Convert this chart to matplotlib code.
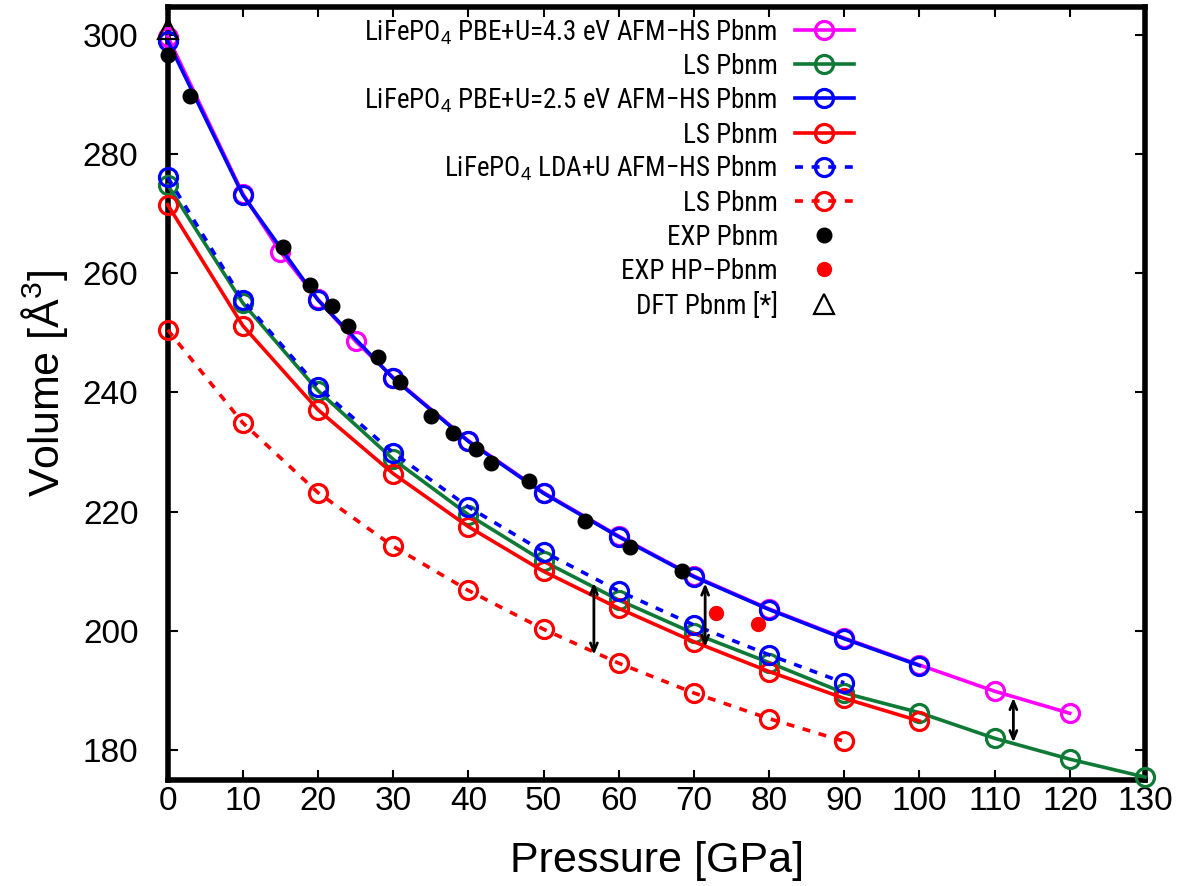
import os
import matplotlib
matplotlib.use("Agg")
import matplotlib.pyplot as plt
from matplotlib import font_manager
from matplotlib.font_manager import FontProperties

plt.rcParams['font.family'] = ['Liberation Sans', 'DejaVu Sans']
plt.rcParams['mathtext.fontset'] = 'custom'
plt.rcParams['mathtext.rm'] = 'Liberation Sans'
plt.rcParams['mathtext.it'] = 'Liberation Sans:italic'
plt.rcParams['mathtext.bf'] = 'Liberation Sans:bold'

# PBE+U=4.3 eV, AFM-HS
p_u43_hs = [0, 10, 15, 20, 25, 30, 40, 50, 60, 70, 80, 90, 100, 110, 120]
v_u43_hs = [299.7, 273.3, 263.6, 255.6, 248.6, 242.5, 231.9, 223.2, 215.9,
            209.2, 203.7, 198.8, 194.3, 189.9, 186.2]
# PBE+U=4.3 eV, LS
p_u43_ls = [0, 10, 20, 30, 40, 50, 60, 70, 80, 90, 100, 110, 120, 130]
v_u43_ls = [274.8, 255.0, 240.3, 228.8, 219.5, 211.7, 205.2, 199.6, 194.7,
            189.6, 186.3, 182.0, 178.5, 175.5]
# PBE+U=2.5 eV, AFM-HS
p_u25_hs = [0, 10, 20, 30, 40, 50, 60, 70, 80, 90, 100]
v_u25_hs = [299.0, 273.1, 255.5, 242.4, 231.8, 223.1, 215.8, 209.1, 203.6, 198.7, 194.2]
# PBE+U=2.5 eV, LS
p_u25_ls = [0, 10, 20, 30, 40, 50, 60, 70, 80, 90, 100]
v_u25_ls = [271.5, 251.2, 237.1, 226.4, 217.5, 210.0, 203.8, 198.2, 193.2, 188.7, 184.9]
# LDA+U, AFM-HS
p_lda_hs = [0, 10, 20, 30, 40, 50, 60, 70, 80, 90]
v_lda_hs = [276.1, 255.5, 240.9, 229.9, 220.8, 213.3, 206.7, 201.0, 196.0, 191.3]
# LDA+U, LS
p_lda_ls = [0, 10, 20, 30, 40, 50, 60, 70, 80, 90]
v_lda_ls = [250.5, 234.9, 223.2, 214.2, 206.8, 200.3, 194.6, 189.6, 185.3, 181.5]
# experiment
p_exp = [0, 3.0, 15.4, 19.0, 21.9, 24.0, 28.0, 30.9, 35.0, 38.0, 41.0, 43.0,
         48.1, 55.5, 61.5, 68.4]
v_exp = [296.6, 289.8, 264.4, 258.0, 254.5, 251.1, 246.0, 241.8, 236.1, 233.2,
         230.5, 228.1, 225.1, 218.5, 214.1, 210.0]
p_exp_hp = [73.0, 78.5]
v_exp_hp = [203.0, 201.1]
p_dft = [0]
v_dft = [300.9]
# double arrows
arrow_p = [56.7, 71.5, 112.5]
arrow_lo = [196.0, 197.3, 181.3]
arrow_hi = [208.1, 208.0, 188.8]

labels = ['LiFePO$_4$ PBE+U=4.3 eV AFM\u2212HS Pbnm', 'LS Pbnm',
          'LiFePO$_4$ PBE+U=2.5 eV AFM\u2212HS Pbnm', 'LS Pbnm',
          'LiFePO$_4$ LDA+U AFM\u2212HS Pbnm', 'LS Pbnm',
          'EXP Pbnm', 'EXP HP\u2212Pbnm', 'DFT Pbnm [*]']


def narrow_font():
    # the key text in the reference is a narrow sans; use one if installed
    tries = [('Liberation Sans Narrow', 'normal'), ('Roboto Condensed', 'normal'),
             ('Noto Sans', 'condensed'), ('Noto Sans Condensed', 'normal'),
             ('Open Sans', 'condensed'), ('Open Sans Condensed', 'normal')]
    for fam, stretch in tries:
        fp = FontProperties(family=fam, stretch=stretch)
        try:
            path = font_manager.findfont(fp, fallback_to_default=False)
        except ValueError:
            continue
        base = os.path.basename(path).lower()
        if 'narrow' in base or 'cond' in base:
            return fam, stretch
    return 'Liberation Sans', 'normal'


key_family, key_stretch = narrow_font()

green = '#0f7a36'
lw = 2.6
circ = dict(marker='o', ms=13, mfc='none', mew=2.3)
styles = [
    dict(color='#ff00ff', lw=lw, **circ),
    dict(color=green, lw=lw, **circ),
    dict(color='#0000ff', lw=lw, **circ),
    dict(color='#ff0000', lw=lw, **circ),
    dict(color='#0000ff', lw=lw, ls=(0, (2.2, 2.4)), **circ),
    dict(color='#ff0000', lw=lw, ls=(0, (2.2, 2.4)), **circ),
    dict(color='black', ls='none', marker='o', ms=10.5),
    dict(color='#ff0000', ls='none', marker='o', ms=10),
    dict(color='black', ls='none', marker='^', ms=14, mfc='none', mew=1.6),
]
series = [(p_u43_hs, v_u43_hs), (p_u43_ls, v_u43_ls), (p_u25_hs, v_u25_hs),
          (p_u25_ls, v_u25_ls), (p_lda_hs, v_lda_hs), (p_lda_ls, v_lda_ls),
          (p_exp, v_exp), (p_exp_hp, v_exp_hp), (p_dft, v_dft)]

fig = plt.figure(figsize=(11.84, 8.86), dpi=100)
ax = fig.add_axes([0.1416, 0.1196, 0.8254, 0.8728])

for i, ((p, v), st) in enumerate(zip(series, styles)):
    ax.plot(p, v, clip_on=False, zorder=3 + i * 0.1, **st)

for p, lo, hi in zip(arrow_p, arrow_lo, arrow_hi):
    ax.annotate('', xy=(p, lo), xytext=(p, hi),
                arrowprops=dict(arrowstyle='<->,head_length=0.6,head_width=0.25',
                                color='black', lw=2, shrinkA=0, shrinkB=0),
                zorder=4)

ax.set_xlim(0, 130)
ax.set_ylim(175, 304.7)
ax.set_xticks(range(0, 131, 10))
ax.set_yticks(range(180, 301, 20))
ax.tick_params(direction='in', length=7, width=1.5, top=True, right=True,
               labelsize=24)
ax.tick_params(axis='x', pad=4)
ax.tick_params(axis='y', pad=21)
for s in ax.spines.values():
    s.set_linewidth(4)

ax.set_xlabel('Pressure [GPa]', fontsize=31, va='baseline')
ax.xaxis.set_label_coords(0.5007, -0.119)
ax.set_ylabel('Volume [\u00c5$^3$]', fontsize=31, va='center')
ax.yaxis.set_label_coords(-0.126, 0.513)

# key, drawn by hand so rows stay evenly spaced
ax_w, ax_h = 977.3, 773.3
x_txt = (778 - 167.7) / ax_w
x0, xm, x1 = (795 - 167.7) / ax_w, (824 - 167.7) / ax_w, (854 - 167.7) / ax_w
key_texts = []
for i, (lab, st) in enumerate(zip(labels, styles)):
    row = 30 + 34.2 * i
    t = ax.text(x_txt, (780 - row - 10) / ax_h, lab, transform=ax.transAxes,
                ha='right', va='baseline', fontsize=19.7,
                family=key_family, stretch=key_stretch)
    key_texts.append(t)
    yy = (780 - row) / ax_h
    if st.get('ls') == 'none':
        ax.plot([xm], [yy], transform=ax.transAxes, clip_on=False, **st)
    else:
        ax.plot([x0, xm, x1], [yy, yy, yy], transform=ax.transAxes,
                markevery=[1], clip_on=False, **st)

# the longest key line is about 413 px wide in the reference
renderer = fig.canvas.get_renderer()
w = key_texts[0].get_window_extent(renderer).width
size = min(19.7, 19.7 * 413 / w)
for t in key_texts:
    t.set_fontsize(size)

fig.savefig('out.png', dpi=100)
